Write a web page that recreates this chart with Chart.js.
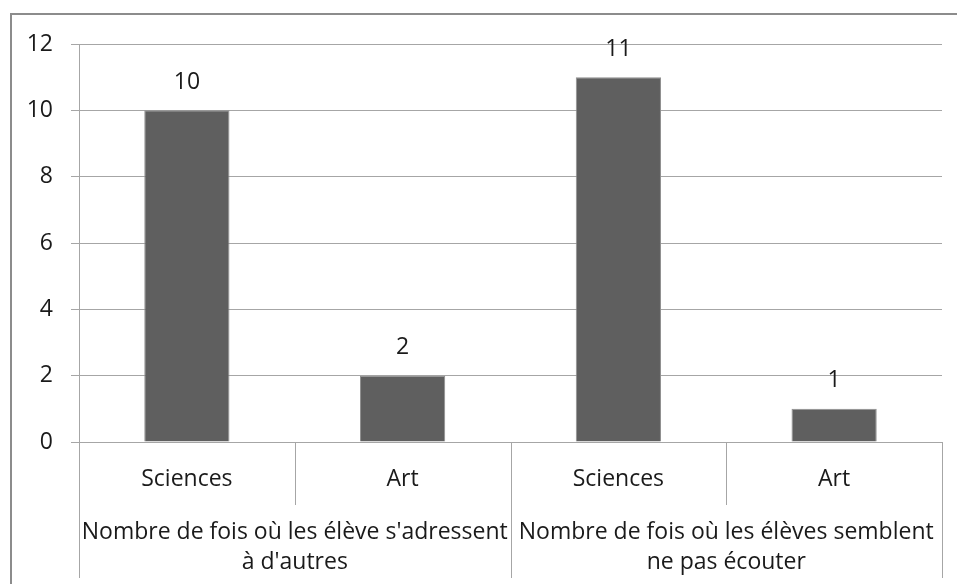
<!DOCTYPE html>
<html>
<head>
<meta charset="utf-8">
<script src="https://cdn.jsdelivr.net/npm/chart.js@4"></script>
<style>
    html, body { margin: 0; padding: 0; background: #fff; }
    #wrap { width: 957px; height: 584px; }
</style>
</head>
<body>
<div id="wrap"><canvas id="barChart" width="957" height="584"></canvas></div>
<script>
// Data
const categories = ['Sciences', 'Art', 'Sciences', 'Art'];
const groups = [
    ['Nombre de fois où les élève s\'adressent', 'à d\'autres'],
    ['Nombre de fois où les élèves semblent', 'ne pas écouter']
];
const values = [10, 2, 11, 1];
const yTicks = [0, 2, 4, 6, 8, 10, 12];

const FONT = '"Open Sans", Lato, sans-serif';
const SIZE = 23;
const LINE = '#a6a6a6';

// Excel-like frame, value labels and multi-level dividers
const excelLook = {
    id: 'excelLook',
    beforeDraw(chart) {
        const ctx = chart.ctx;
        ctx.save();
        ctx.strokeStyle = '#8c8c8c';
        ctx.lineWidth = 2;
        ctx.strokeRect(11, 14, 980, 620);
        ctx.restore();
    },
    afterDatasetsDraw(chart) {
        const ctx = chart.ctx;
        const meta = chart.getDatasetMeta(0);
        ctx.save();
        ctx.fillStyle = '#1a1a1a';
        ctx.font = SIZE + 'px ' + FONT;
        ctx.textAlign = 'center';
        ctx.textBaseline = 'middle';
        meta.data.forEach((bar, i) => {
            ctx.fillText(String(values[i]), bar.x, bar.y - 28);
        });
        ctx.restore();
    },
    afterDraw(chart) {
        const ctx = chart.ctx;
        const x = chart.scales.x;
        const x2 = chart.scales.x2;
        const step = (x.right - x.left) / categories.length;
        ctx.save();
        ctx.strokeStyle = LINE;
        ctx.lineWidth = 1;
        for (let i = 0; i <= categories.length; i++) {
            const px = Math.round(x.left + step * i) + 0.5;
            const isGroupEdge = i % 2 === 0;
            const bottom = isGroupEdge ? x2.bottom - 6 : x.bottom;
            ctx.beginPath();
            ctx.moveTo(px, x.top);
            ctx.lineTo(px, bottom);
            ctx.stroke();
        }
        ctx.restore();
    }
};

const ctx = document.getElementById('barChart').getContext('2d');
new Chart(ctx, {
    type: 'bar',
    data: {
        labels: categories,
        datasets: [{
            data: values,
            backgroundColor: '#5f5f5f',
            borderColor: '#8f8f8f',
            borderWidth: 1,
            categoryPercentage: 1,
            barPercentage: 0.395
        }]
    },
    options: {
        responsive: false,
        animation: false,
        layout: { padding: { top: 44, right: 15, bottom: 0, left: 0 } },
        plugins: {
            legend: { display: false },
            tooltip: { enabled: false }
        },
        scales: {
            y: {
                min: 0,
                max: 12,
                afterBuildTicks(scale) {
                    scale.ticks = yTicks.map(v => ({ value: v }));
                },
                afterFit(scale) { scale.width = 79; },
                grid: { color: LINE, tickLength: 8 },
                border: { color: LINE },
                ticks: {
                    padding: 18,
                    color: '#1a1a1a',
                    font: { family: FONT, size: SIZE }
                }
            },
            x: {
                position: 'bottom',
                afterFit(scale) { scale.height = 63; },
                grid: { display: false },
                border: { color: LINE },
                ticks: {
                    padding: 16,
                    maxRotation: 0,
                    autoSkip: false,
                    color: '#1a1a1a',
                    font: { family: FONT, size: SIZE }
                }
            },
            x2: {
                type: 'category',
                position: 'bottom',
                labels: groups,
                offset: true,
                afterFit(scale) { scale.height = 79; },
                grid: { display: false },
                border: { display: false },
                ticks: {
                    padding: 5,
                    maxRotation: 0,
                    autoSkip: false,
                    color: '#1a1a1a',
                    font: { family: FONT, size: SIZE, lineHeight: 1.3 }
                }
            }
        }
    },
    plugins: [excelLook]
});
</script>
</body>
</html>
